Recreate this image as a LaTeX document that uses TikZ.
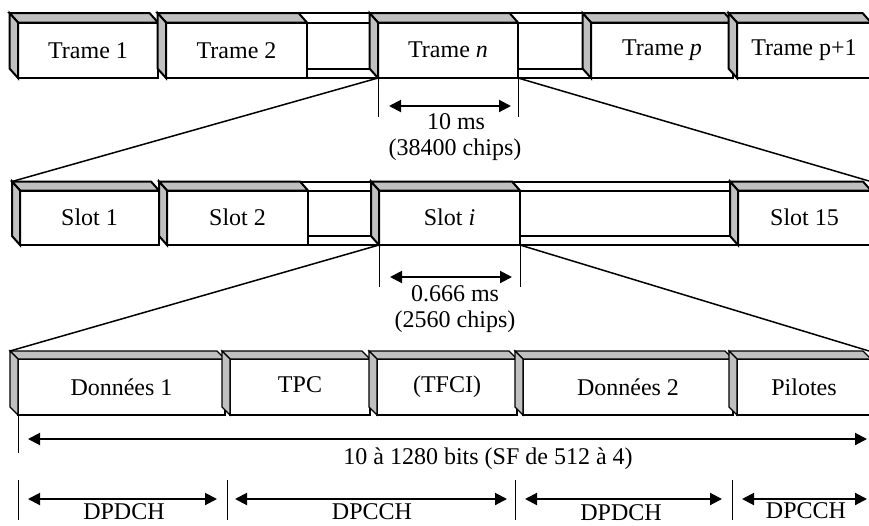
\documentclass[tikz,border=0pt]{standalone}
\usepackage{fontspec}
\setmainfont{Liberation Serif}
\usetikzlibrary{arrows.meta,calc}
\definecolor{bevgray}{HTML}{C0C0C0}
\tikzset{
  face/.style={draw, fill=white, inner sep=0pt, outer sep=0pt, font=\fontsize{24}{28}\selectfont},
  thickrow/.style={line width=2pt},
  thinrow/.style={line width=1.2pt},
  bevel/.style={fill=bevgray, draw, line join=miter},
  conn/.style={line width=1.5pt},
  tickline/.style={line width=1pt},
  dimarrow/.style={line width=2pt, {Triangle[length=12pt,width=12pt]}-{Triangle[length=12pt,width=12pt]}},
  lbl/.style={font=\fontsize{24}{28}\selectfont, inner sep=0pt},
}
% #1 name, #2 x left, #3 x right, #4 y front top, #5 y bottom, #6 depth x, #7 depth y, #8 text, #9 style
\newcommand{\bvbox}[9]{%
  \node[face,#9,minimum width={#3-#2}, minimum height={#5-#4}] (#1) at ({(#2+#3)/2},{(#4+#5)/2}) {#8};
  \filldraw[bevel,#9] (#1.north west) -- ++(-#6,-#7) coordinate (#1tl)
     -- ([shift={(-#6,-#7)}]#1.north east) coordinate (#1tr) -- (#1.north east) -- cycle;
  \filldraw[bevel,#9] (#1.north west) -- (#1tl)
     -- ([shift={(-#6,-#7)}]#1.south west) coordinate (#1bl) -- (#1.south west) -- cycle;
}
% gap between box #1 and box #2
\newcommand{\gapbox}[3]{%
  \draw[#3] (#1tr) -- (#2tl);
  \draw[#3] (#1.north east) -- (#1.north east -| #2tl);
  \draw[#3] (#1.south east |- #2bl) -- (#2bl);
  \draw[#3] (#1.south east) -- (#2.south west);
}
\begin{document}
\begin{tikzpicture}[x=1pt,y=-1pt]
\clip (0,0) rectangle (869,525);
\fill[white] (0,0) rectangle (869,525);

% ---- Row 1: frames
\bvbox{T1}{18}{158}{22.5}{78}{8.5}{9.5}{Trame 1}{thickrow}
\bvbox{T2}{166}{307}{22.5}{78}{8.5}{9.5}{Trame 2}{thickrow}
\bvbox{Tn}{378}{518}{22.5}{78}{8.5}{9.5}{Trame \textit{n}}{thickrow}
\bvbox{Tp}{591}{733}{22.5}{78}{8.5}{9.5}{Trame \textit{p}}{thickrow}
\bvbox{Tq}{737}{871}{22.5}{78}{8.5}{9.5}{Trame p+1}{thickrow}
\gapbox{T2}{Tn}{thickrow}
\gapbox{Tn}{Tp}{thickrow}

% ---- Row 2: slots
\bvbox{S1}{20}{159}{190.5}{245}{8}{9}{Slot 1}{thickrow}
\bvbox{S2}{167}{308}{190.5}{245}{8}{9}{Slot 2}{thickrow}
\bvbox{Si}{379}{520}{190.5}{245}{8}{9}{Slot \textit{i}}{thickrow}
\bvbox{S15}{738}{871}{190.5}{245}{8}{9}{Slot 15}{thickrow}
\gapbox{S2}{Si}{thickrow}
\gapbox{Si}{S15}{thickrow}

% ---- Row 3: fields
\bvbox{D1}{18}{225}{359}{415}{8}{8}{Données 1}{thinrow}
\bvbox{TPC}{230}{370}{359}{415}{8}{8}{\raisebox{5pt}{TPC}}{thinrow}
\bvbox{TFCI}{377}{517}{359}{415}{8}{8}{(TFCI)}{thinrow}
\bvbox{D2}{523}{733}{359}{415}{8}{8}{Données 2}{thinrow}
\bvbox{Pil}{737}{871}{359}{415}{8}{8}{Pilotes}{thinrow}

% ---- zoom connectors
\coordinate (r2) at (869,181);
\coordinate (r3) at (869,351);
\draw[conn] (Tn.south west) -- (S1tl);
\draw[conn] (Tn.south east) -- (r2);
\draw[conn] (Si.south west) -- (D1tl);
\draw[conn] (Si.south east) -- (r3);

% ---- frame duration
\coordinate (t1a) at (378,117);
\coordinate (t1b) at (518,117);
\draw[tickline] (Tn.south west) -- (t1a);
\draw[tickline] (Tn.south east) -- (t1b);
\coordinate (a1a) at (389,106);
\coordinate (a1b) at (511,106);
\draw[dimarrow] (a1a) -- (a1b);
\node[lbl] (l1a) at (456,122) {10 ms};
\node[lbl] (l1b) at (455,150) {(38400 chips)};

% ---- slot duration
\coordinate (t2a) at (379,287);
\coordinate (t2b) at (520,287);
\draw[tickline] (Si.south west) -- (t2a);
\draw[tickline] (Si.south east) -- (t2b);
\coordinate (a2a) at (390,277);
\coordinate (a2b) at (512,277);
\draw[dimarrow] (a2a) -- (a2b);
\node[lbl] (l2a) at (455,294) {0.666 ms};
\node[lbl] (l2b) at (455,322) {(2560 chips)};

% ---- bits dimension
\coordinate (t3) at (18,453);
\draw[tickline] (D1.south west) -- (t3);
\coordinate (a3a) at (28,439);
\coordinate (a3b) at (867,439);
\draw[dimarrow] (a3a) -- (a3b);
\node[lbl] (l3) at (488,459) {10 à 1280 bits (SF de 512 à 4)};

% ---- channel dimensions
\foreach \x [count=\i] in {18,227,515,732}{
  \coordinate (k\i a) at (\x,480);
  \coordinate (k\i b) at (\x,520);
  \draw[tickline] (k\i a) -- (k\i b);
}
\coordinate (c1a) at (28,499);  \coordinate (c1b) at (217,499);
\coordinate (c2a) at (235,499); \coordinate (c2b) at (507,499);
\coordinate (c3a) at (525,499); \coordinate (c3b) at (722,499);
\coordinate (c4a) at (742,499); \coordinate (c4b) at (867,499);
\draw[dimarrow] (c1a) -- (c1b);
\draw[dimarrow] (c2a) -- (c2b);
\draw[dimarrow] (c3a) -- (c3b);
\draw[dimarrow] (c4a) -- (c4b);
\node[lbl] (n1) at (124,512) {DPDCH};
\node[lbl] (n2) at (372,512) {DPCCH};
\node[lbl] (n3) at (621,512.5) {DPDCH};
\node[lbl] (n4) at (806,511) {DPCCH};
\end{tikzpicture}
\end{document}
